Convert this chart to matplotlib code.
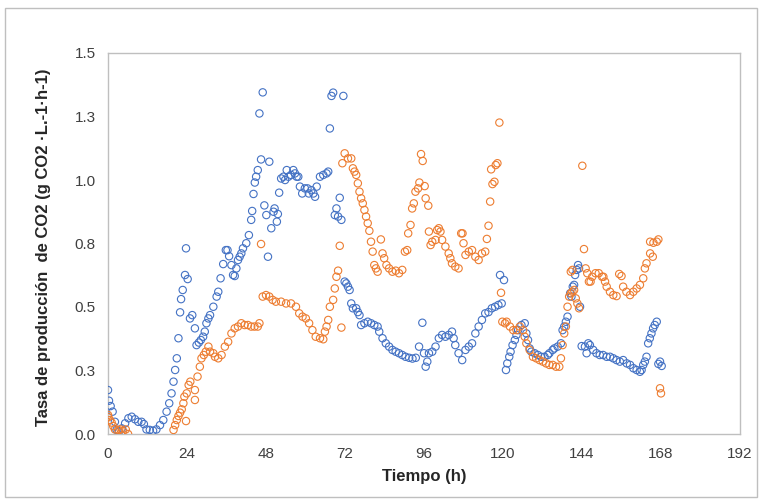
import matplotlib.pyplot as plt
from matplotlib.patches import Rectangle

# Serie azul (tiempo en h, tasa en g CO2/L/h)
blue_t = [0.0, 0.3, 0.8, 1.4, 2.1, 2.6, 3.3, 4.2, 5.2, 6.2, 7.2, 8.2, 9.2, 10.2, 10.9,
          11.7, 12.7, 13.7, 14.7, 15.8, 16.8, 17.8, 18.6, 19.3, 19.9, 20.4, 20.9, 21.4,
          21.9, 22.2, 22.7, 23.4, 23.7, 24.2, 24.9, 25.6, 26.4, 26.9, 27.6, 28.2, 28.9,
          29.4, 29.9, 30.5, 31.0, 32.0, 33.0, 33.5, 34.2, 35.0, 35.8, 36.3, 36.8, 37.5,
          38.0, 38.5, 39.0, 39.5, 40.0, 40.5, 41.0, 42.0, 42.8, 43.5, 43.8, 44.2, 44.6,
          45.0, 45.5, 46.0, 46.5, 47.0, 47.5, 48.1, 48.6, 49.0, 49.6, 50.3, 50.6, 51.3,
          51.6, 52.0, 52.6, 53.3, 53.8, 54.3, 54.8, 55.6, 56.3, 56.8, 57.3, 57.8, 58.3,
          59.0, 59.8, 60.6, 61.0, 61.8, 62.4, 62.9, 63.4, 64.4, 65.4, 66.4, 66.9, 67.4,
          67.9, 68.4, 68.9, 69.4, 69.9, 70.4, 70.9, 71.5, 71.9, 72.4, 72.9, 73.4, 73.9,
          74.4, 75.4, 75.9, 76.4, 76.9, 77.9, 78.9, 79.9, 80.9, 81.9, 82.4, 83.4, 84.4,
          85.4, 86.4, 87.4, 88.4, 89.4, 90.4, 91.5, 92.5, 93.5, 94.5, 95.5, 96.0, 96.5,
          97.0, 97.5, 98.5, 99.5, 100.5, 101.5, 102.5, 103.5, 104.5, 105.0, 105.5, 106.5,
          107.6, 108.6, 109.6, 110.6, 111.6, 112.6, 113.6, 114.6, 115.6, 116.6, 117.6,
          118.6, 119.1, 119.6, 120.3, 120.9, 121.3, 121.9, 122.3, 122.9, 123.6, 124.1,
          124.6, 125.6, 126.6, 127.1, 127.6, 128.1, 128.6, 129.6, 130.6, 131.6, 132.6,
          133.6, 134.1, 135.1, 135.6, 136.6, 137.6, 138.1, 138.6, 139.1, 139.6, 140.4,
          140.8, 141.2, 141.6, 141.9, 142.4, 142.8, 143.1, 143.4, 143.9, 144.9, 145.4,
          145.9, 146.4, 147.4, 148.4, 149.4, 150.4, 151.5, 152.5, 153.5, 154.5, 155.5,
          156.5, 157.6, 158.6, 159.6, 160.6, 161.6, 162.1, 162.6, 163.1, 163.6, 164.1,
          164.6, 165.1, 165.6, 166.1, 166.7, 167.2, 167.7, 168.2]
blue_v = [0.173, 0.131, 0.110, 0.088, 0.048, 0.016, 0.009, 0.022, 0.042, 0.062, 0.068,
          0.058, 0.048, 0.048, 0.039, 0.018, 0.016, 0.013, 0.018, 0.035, 0.055, 0.088,
          0.121, 0.160, 0.206, 0.252, 0.298, 0.377, 0.479, 0.531, 0.567, 0.626, 0.731,
          0.610, 0.455, 0.468, 0.416, 0.350, 0.360, 0.370, 0.383, 0.403, 0.436, 0.455,
          0.468, 0.501, 0.541, 0.560, 0.613, 0.669, 0.724, 0.724, 0.700, 0.665, 0.626,
          0.622, 0.652, 0.685, 0.698, 0.711, 0.731, 0.751, 0.783, 0.843, 0.878, 0.945,
          0.990, 1.013, 1.039, 1.262, 1.081, 1.345, 0.900, 0.862, 0.698, 1.072, 0.810,
          0.875, 0.888, 0.836, 0.866, 0.950, 1.006, 1.013, 1.000, 1.039, 1.013, 1.020,
          1.039, 1.026, 1.013, 1.013, 0.974, 0.947, 0.967, 0.967, 0.947, 0.960, 0.947,
          0.934, 0.974, 1.013, 1.020, 1.026, 1.033, 1.203, 1.331, 1.344, 0.862, 0.888,
          0.856, 0.930, 0.843, 1.331, 0.600, 0.593, 0.580, 0.567, 0.514, 0.495, 0.495,
          0.480, 0.468, 0.429, 0.436, 0.442, 0.436, 0.429, 0.423, 0.403, 0.377, 0.357,
          0.344, 0.331, 0.324, 0.318, 0.311, 0.304, 0.300, 0.297, 0.300, 0.344, 0.438,
          0.318, 0.265, 0.285, 0.318, 0.324, 0.344, 0.377, 0.390, 0.383, 0.390, 0.403,
          0.377, 0.350, 0.318, 0.291, 0.331, 0.344, 0.357, 0.396, 0.423, 0.449, 0.475,
          0.480, 0.495, 0.501, 0.508, 0.626, 0.514, 0.606, 0.252, 0.278, 0.304, 0.324,
          0.350, 0.370, 0.390, 0.409, 0.429, 0.436, 0.396, 0.370, 0.337, 0.324, 0.318,
          0.311, 0.304, 0.304, 0.311, 0.318, 0.331, 0.337, 0.344, 0.357, 0.409, 0.423,
          0.442, 0.462, 0.554, 0.541, 0.580, 0.587, 0.626, 0.646, 0.665, 0.652, 0.501,
          0.346, 0.344, 0.318, 0.357, 0.350, 0.331, 0.318, 0.311, 0.311, 0.304, 0.304,
          0.298, 0.291, 0.285, 0.291, 0.278, 0.272, 0.259, 0.252, 0.245, 0.252, 0.272,
          0.285, 0.304, 0.357, 0.377, 0.396, 0.416, 0.429, 0.442, 0.276, 0.285, 0.268]

# Serie naranja
orange_t = [0.0, 0.1, 0.6, 1.1, 1.6, 2.1, 3.1, 3.8, 4.6, 5.4, 6.1, 19.9, 20.4, 20.9,
            21.4, 21.9, 22.4, 22.9, 23.2, 23.7, 23.9, 24.5, 25.0, 26.4, 26.4, 27.2, 27.9,
            28.4, 29.1, 29.7, 30.5, 31.0, 32.0, 32.5, 33.5, 34.5, 35.5, 36.5, 37.5, 38.5,
            39.5, 40.5, 41.5, 42.5, 43.5, 44.5, 45.5, 46.0, 46.5, 47.0, 48.0, 49.0, 50.0,
            51.0, 52.6, 54.1, 55.6, 57.1, 58.1, 59.1, 60.1, 61.1, 62.1, 63.1, 64.4, 65.4,
            65.9, 66.4, 66.9, 67.4, 68.4, 68.9, 69.4, 69.9, 70.4, 70.9, 71.2, 71.9, 72.9,
            73.9, 74.4, 74.9, 75.4, 75.9, 76.4, 76.9, 77.4, 77.9, 78.4, 78.9, 79.4, 79.9,
            80.4, 80.9, 81.4, 81.9, 82.9, 83.4, 83.9, 84.6, 85.4, 86.4, 87.4, 88.4, 89.4,
            90.2, 90.9, 91.2, 91.9, 92.4, 92.9, 93.4, 94.2, 94.6, 95.1, 95.6, 96.2, 96.5,
            97.3, 97.5, 98.0, 98.5, 99.5, 100.0, 100.5, 101.0, 101.5, 102.5, 103.5, 104.0,
            104.5, 105.5, 106.5, 107.3, 107.7, 108.0, 108.6, 109.6, 110.6, 111.6, 112.6,
            113.6, 114.6, 115.1, 115.6, 116.1, 116.4, 116.8, 117.4, 117.8, 118.3, 118.9,
            119.4, 119.8, 120.6, 121.1, 122.1, 123.1, 124.1, 125.1, 126.1, 126.6, 127.1,
            128.1, 129.1, 130.1, 131.1, 132.1, 133.1, 134.1, 135.1, 136.1, 137.1, 137.6,
            138.1, 138.6, 139.1, 139.6, 140.1, 140.6, 140.6, 141.1, 141.1, 141.6, 142.1,
            142.6, 143.1, 144.1, 144.6, 145.1, 145.6, 146.1, 146.6, 147.1, 148.1, 149.1,
            150.1, 150.5, 151.0, 151.5, 152.5, 153.5, 154.5, 155.3, 156.0, 156.5, 157.5,
            158.6, 159.6, 160.6, 161.6, 162.6, 163.1, 163.6, 164.7, 165.5, 164.7, 165.7,
            166.7, 167.2, 167.7, 168.0]
orange_v = [0.075, 0.066, 0.055, 0.045, 0.031, 0.018, 0.016, 0.018, 0.012, 0.018, 0.000,
            0.016, 0.035, 0.055, 0.071, 0.084, 0.097, 0.121, 0.147, 0.051, 0.160, 0.193,
            0.206, 0.134, 0.173, 0.226, 0.265, 0.298, 0.311, 0.324, 0.344, 0.324, 0.318,
            0.304, 0.298, 0.311, 0.344, 0.363, 0.396, 0.416, 0.423, 0.436, 0.429, 0.429,
            0.423, 0.423, 0.423, 0.436, 0.748, 0.541, 0.547, 0.541, 0.528, 0.521, 0.521,
            0.514, 0.514, 0.501, 0.475, 0.462, 0.455, 0.436, 0.409, 0.383, 0.377, 0.373,
            0.403, 0.423, 0.449, 0.501, 0.528, 0.573, 0.619, 0.643, 0.741, 0.419, 1.066,
            1.105, 1.085, 1.085, 1.046, 1.033, 1.020, 0.987, 0.954, 0.928, 0.908, 0.882,
            0.856, 0.830, 0.800, 0.757, 0.718, 0.665, 0.652, 0.639, 0.766, 0.711, 0.692,
            0.665, 0.652, 0.639, 0.643, 0.633, 0.646, 0.718, 0.724, 0.790, 0.823, 0.888,
            0.908, 0.954, 0.967, 0.990, 1.102, 1.075, 0.976, 0.928, 0.899, 0.797, 0.744,
            0.757, 0.764, 0.803, 0.810, 0.797, 0.764, 0.738, 0.711, 0.692, 0.672, 0.659,
            0.652, 0.790, 0.790, 0.751, 0.705, 0.718, 0.724, 0.698, 0.685, 0.711, 0.718,
            0.768, 0.820, 0.915, 1.042, 0.984, 0.993, 1.059, 1.066, 1.226, 0.556, 0.442,
            0.436, 0.442, 0.423, 0.409, 0.409, 0.423, 0.409, 0.383, 0.357, 0.331, 0.304,
            0.298, 0.291, 0.285, 0.278, 0.272, 0.272, 0.265, 0.265, 0.298, 0.350, 0.396,
            0.423, 0.501, 0.541, 0.639, 0.554, 0.646, 0.560, 0.567, 0.534, 0.514, 0.495,
            1.056, 0.728, 0.652, 0.633, 0.600, 0.600, 0.619, 0.633, 0.633, 0.619, 0.619,
            0.600, 0.580, 0.560, 0.547, 0.543, 0.630, 0.622, 0.580, 0.560, 0.547, 0.560,
            0.573, 0.587, 0.613, 0.652, 0.672, 0.711, 0.698, 0.757, 0.753, 0.757, 0.766,
            0.180, 0.160]

x_ticks = [0, 24, 48, 72, 96, 120, 144, 168, 192]
y_ticks = [0.0, 0.25, 0.5, 0.75, 1.0, 1.25, 1.5]
y_tick_labels = ['0.0', '0.3', '0.5', '0.8', '1.0', '1.3', '1.5']

plt.rcParams['font.family'] = ['Liberation Sans', 'DejaVu Sans']

fig = plt.figure(figsize=(7.64, 5.01), dpi=100)
ax = fig.add_axes([108 / 764, 67 / 501, 632 / 764, 381 / 501])

ax.scatter(blue_t, blue_v, s=28, facecolors='none', edgecolors='#4472C4',
           linewidths=0.8, zorder=3)
ax.scatter(orange_t, orange_v, s=28, facecolors='none', edgecolors='#ED7D31',
           linewidths=0.8, zorder=3)

ax.set_xlim(0, 192)
ax.set_ylim(0, 1.5)
ax.set_xticks(x_ticks)
ax.set_yticks(y_ticks)
ax.set_yticklabels(y_tick_labels)
ax.tick_params(length=0, labelsize=11, labelcolor='#404040', pad=9)

for s in ax.spines.values():
    s.set_color('#BFBFBF')
    s.set_linewidth(1.0)

ax.set_xlabel('Tiempo (h)', fontsize=12, fontweight='bold', color='#262626', labelpad=6)
fig.text(44 / 764, 1 - 247 / 501, 'Tasa de producción  de CO2 (g CO2 ·L.-1·h-1)',
         rotation=90, fontsize=12, fontweight='bold', color='#262626',
         ha='center', va='center')

# borde exterior del gráfico
fig.patches.append(Rectangle((5 / 764, 4 / 501), 752 / 764, 489 / 501,
                             transform=fig.transFigure, fill=False,
                             edgecolor='#BFBFBF', linewidth=1.0))

fig.savefig('out.png', dpi=100)
